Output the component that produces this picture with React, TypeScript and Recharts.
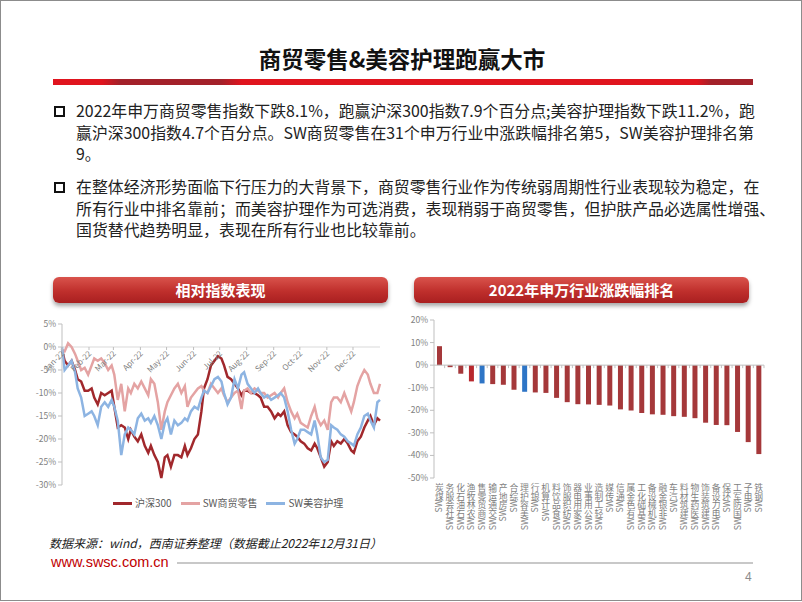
import React from 'react';
import {
	LineChart,
	Line,
	BarChart,
	Bar,
	Cell,
	XAxis,
	YAxis,
	ReferenceLine,
	ReferenceDot,
} from 'recharts';

/* ─── Data: relative index performance (% vs 2021-12-31) ─── */

const DAYS = [
	0, 3, 7, 11, 15, 18, 22, 26, 30, 34, 37, 41, 45, 49, 53, 57, 60, 64, 68, 72,
	76, 79, 83, 87, 91, 95, 99, 102, 106, 110, 114, 118, 121, 125, 129, 133, 137, 141, 144, 148,
	152, 156, 160, 163, 167, 171, 175, 179, 183, 186, 190, 194, 198, 202, 206, 209, 213, 217, 221, 225,
	228, 232, 236, 240, 244, 248, 251, 255, 259, 263, 267, 270, 274, 278, 282, 286, 290, 293, 297, 301,
	305, 309, 312, 316, 320, 324, 328, 332, 335, 339, 343, 347, 351, 354, 358, 362, 365,
];

const HS300 = [
	-0.5, -3, -4, -3, -5, -7, -7.5, -9.5, -9.5, -9, -11, -12.5, -10, -10.5, -10, -9.5, -13, -17.5, -17, -17.5,
	-20, -18, -19.5, -20.5, -19, -21.5, -23, -21.5, -23.5, -25, -28.5, -24, -23.5, -26, -23.5, -23.5, -24, -21.5, -23.5, -22,
	-20, -19, -14, -9, -7, -4, -3, -2, -2.5, -4, -6.5, -7, -8, -9, -10.5, -9.5, -9.5, -10, -10, -10.5,
	-11, -13, -13, -14, -15.5, -14.5, -15, -14, -17, -18.5, -19, -19.5, -20.5, -21, -22, -22.5, -21, -22, -24, -26,
	-25, -20.5, -21.5, -20.5, -21, -20, -21, -22.5, -23, -20.5, -19.5, -17.5, -16, -15, -17, -15.5, -16,
];

const RETAIL = [
	-1, -1, 0.8, 0, -1.5, -3, -5, -4.5, -6, -4, -2.5, -3, -2.5, -3.5, -5, -4, -6, -11.5, -8, -14,
	-9, -10, -8, -9, -7.5, -9, -10.5, -7, -8, -12, -18, -14, -12, -10.5, -9, -8, -10, -8.5, -13, -11,
	-10, -9, -8.5, -9.5, -10, -8, -9, -10, -9, -10.5, -12, -11, -10, -9.5, -13.5, -9.5, -9, -10, -9, -9.5,
	-10, -10, -11, -10.5, -10, -11, -10, -9, -12, -14, -15.5, -14.5, -16.5, -17, -17.5, -15, -13, -15.5, -17, -16,
	-18, -12, -11, -11, -12, -10, -12, -14, -12, -8.5, -6.5, -5, -6, -8, -10, -10, -8,
];

const BEAUTY = [
	0, -5, -4, -3, -5.5, -9, -11, -15, -14.5, -14, -15, -17, -13, -12, -13, -11.5, -13, -16, -23.5, -19,
	-17.5, -18, -19, -15.5, -14.5, -16, -15.5, -16.5, -15, -17, -20, -16.5, -15.5, -19, -16, -17, -16.5, -15.5, -16, -14,
	-13, -13.5, -11, -9.5, -10, -8.5, -7, -6.5, -7.5, -10, -12.5, -11, -7, -9, -6, -5.5, -8, -9, -10, -9,
	-10, -11, -10.5, -11.5, -11, -10.5, -10, -11, -14, -18, -21, -20, -18, -18, -18.5, -19, -16, -19, -24, -25,
	-24.5, -17, -17.5, -18, -19, -19.5, -20.5, -21, -21.5, -19, -17.5, -15, -14.5, -16, -17.5, -12, -11.5,
];

const MONTH_STARTS = [0, 31, 59, 90, 120, 151, 181, 212, 243, 273, 304, 334];
const MONTH_LABELS = ['Jan-22', 'Feb-22', 'Mar-22', 'Apr-22', 'May-22', 'Jun-22', 'Jul-22', 'Aug-22', 'Sep-22', 'Oct-22', 'Nov-22', 'Dec-22'];
const LINE_TICKS = [5, 0, -5, -10, -15, -20, -25, -30];

/* ─── Data: 2022 SW industry ranking ─── */

const INDUSTRIES = [
	'SW煤炭', 'SW社会服务', 'SW石油石化', 'SW农林牧渔', 'SW商贸零售', 'SW交通运输', 'SW房地产', 'SW综合',
	'SW美容护理', 'SW银行', 'SW计算机', 'SW食品饮料', 'SW纺织服饰', 'SW家用电器', 'SW公用事业', 'SW轻工制造',
	'SW传媒', 'SW通信', 'SW有色金属', 'SW基础化工', 'SW机械设备', 'SW非银金融', 'SW汽车', 'SW建筑材料',
	'SW医药生物', 'SW建筑装饰', 'SW电力设备', 'SW环保', 'SW国防军工', 'SW电子', 'SW钢铁',
];

const CHANGES = [
	8.4, -0.9, -3.8, -7.2, -8.1, -8.4, -8.7, -10.9, -11.8, -12.1, -12.3, -14.5, -16.4, -17.3, -17.4, -17.6,
	-17.9, -19.6, -20.1, -21.2, -21.8, -22.0, -22.6, -22.9, -23.5, -25.5, -26.5, -26.6, -29.6, -34.1, -39.4,
];

const HIGHLIGHT = ['SW商贸零售', 'SW美容护理'];
const BAR_TICKS = [20, 10, 0, -10, -20, -30, -40, -50];

/* ─── Style ─── */

const FONT = '"Noto Sans CJK SC", "Noto Sans", sans-serif';
const AXIS_GRAY = '#BFBFBF';
const TICK_TEXT = { fontSize: 8.5, fill: '#7F7F7F', fontFamily: FONT };

const RED_DARK = '#A1282C';
const PINK = '#E4A3A3';
const BLUE_LIGHT = '#8DB4E2';

const lineData = DAYS.map((d, i) => ({ day: d, hs300: HS300[i], retail: RETAIL[i], beauty: BEAUTY[i] }));
const barData = INDUSTRIES.map((name, i) => ({ name, value: CHANGES[i] }));

/* ─── Small pieces ─── */

function Banner({ left, title }: { left: number; title: string }) {
	return (
		<div
			style={{
				position: 'absolute',
				left,
				top: 276,
				width: 335,
				height: 26,
				borderRadius: 6,
				background: 'linear-gradient(#D9534C, #BF2F2C 55%, #A91F20)',
				boxShadow: '0 3px 4px rgba(0,0,0,0.35)',
				color: '#fff',
				fontWeight: 700,
				fontSize: 15,
				lineHeight: '26px',
				textAlign: 'center',
				fontFamily: FONT,
			}}
		>
			{title}
		</div>
	);
}

function Bullet({ top, lines }: { top: number; lines: string[] }) {
	return (
		<>
			<div
				style={{
					position: 'absolute',
					left: 53,
					top: top + 6,
					width: 7,
					height: 7,
					border: '2px solid #111',
				}}
			/>
			<div
				style={{
					position: 'absolute',
					left: 75,
					top,
					fontSize: 15.9,
					lineHeight: '21.5px',
					color: '#222',
					fontFamily: FONT,
					whiteSpace: 'nowrap',
				}}
			>
				{lines.map((l) => (
					<div key={l}>{l}</div>
				))}
			</div>
		</>
	);
}

function MonthMark(props: any) {
	const { cx, cy, label } = props;
	return (
		<g>
			<line x1={cx} y1={cy} x2={cx} y2={cy + 3} stroke={AXIS_GRAY} />
			<text
				transform={`translate(${cx + 3}, ${cy + 7}) rotate(-45)`}
				textAnchor="end"
				fontSize={8}
				fill="#7F7F7F"
				fontFamily={FONT}
			>
				{label}
			</text>
		</g>
	);
}

function ZeroAxis(props: any) {
	const { x1, x2, y1 } = props;
	const n = INDUSTRIES.length;
	const step = (x2 - x1) / n;
	return (
		<g>
			<line x1={x1} y1={y1} x2={x2} y2={y1} stroke={AXIS_GRAY} />
			{INDUSTRIES.map((_, i) => (
				<line key={i} x1={x1 + step * (i + 1)} y1={y1} x2={x1 + step * (i + 1)} y2={y1 + 3} stroke={AXIS_GRAY} />
			))}
		</g>
	);
}

// category label turned -90 (reads upwards, ends at the axis); Chinese glyphs turned back upright
function StackedTick(props: any) {
	const { x, y, payload } = props;
	const label: string = payload.value;
	const prefix = label.startsWith('SW') ? 'SW' : '';
	const rest = label.slice(prefix.length);
	const fs = 8.8;
	return (
		<text
			transform={`translate(${x + fs * 0.36}, ${y}) rotate(-90)`}
			textAnchor="end"
			fontSize={fs}
			fill="#7F7F7F"
			fontFamily={FONT}
		>
			{prefix}
			<tspan rotate={90} dy={-fs * 0.86}>
				{rest}
			</tspan>
		</text>
	);
}

/* ─── Main ─── */

export default function App() {
	return (
		<div
			style={{
				position: 'absolute',
				left: 0,
				top: 0,
				width: 800,
				height: 599,
				border: '1px solid #8C8C8C',
				background: '#fff',
				overflow: 'hidden',
				fontFamily: FONT,
			}}
		>
			{/* title */}
			<div
				style={{
					position: 'absolute',
					left: 0,
					top: 42,
					width: 802,
					textAlign: 'center',
					fontSize: 22.5,
					fontWeight: 700,
					lineHeight: '30px',
					color: '#111',
				}}
			>
				商贸零售&amp;美容护理跑赢大市
			</div>
			<div
				style={{
					position: 'absolute',
					left: 52,
					top: 78,
					width: 700,
					height: 6,
					background:
						'linear-gradient(90deg, #E0141E 0%, #E0141E 7%, #A3212A 9.5%, #A3212A 24%, #E0141E 27%, #E0141E 92%, #A3212A 94%, #A3212A 100%)',
				}}
			/>

			<Bullet
				top={99}
				lines={[
					'2022年申万商贸零售指数下跌8.1%，跑赢沪深300指数7.9个百分点;美容护理指数下跌11.2%，跑',
					'赢沪深300指数4.7个百分点。SW商贸零售在31个申万行业中涨跌幅排名第5，SW美容护理排名第',
					'9。',
				]}
			/>
			<Bullet
				top={175}
				lines={[
					'在整体经济形势面临下行压力的大背景下，商贸零售行业作为传统弱周期性行业表现较为稳定，在',
					'所有行业中排名靠前；而美容护理作为可选消费，表现稍弱于商贸零售，但护肤产品必选属性增强、',
					'国货替代趋势明显，表现在所有行业也比较靠前。',
				]}
			/>

			<Banner left={52} title="相对指数表现" />
			<Banner left={413} title="2022年申万行业涨跌幅排名" />

			{/* left: line chart */}
			<div style={{ position: 'absolute', left: 20, top: 312 }}>
				<LineChart width={370} height={200} data={lineData} margin={{ top: 11, right: 11, left: 0, bottom: 28 }}>
					<XAxis type="number" dataKey="day" domain={[0, 365]} hide />
					<YAxis
						domain={[-30, 5]}
						ticks={LINE_TICKS}
						interval={0}
						width={41}
						tickFormatter={(v) => `${v}%`}
						tick={TICK_TEXT}
						axisLine={{ stroke: AXIS_GRAY }}
						tickLine={{ stroke: AXIS_GRAY }}
						tickSize={4}
					/>
					<ReferenceLine y={0} stroke="#D9D9D9" />
					{MONTH_STARTS.map((d, i) => (
						<ReferenceDot
							key={d}
							x={d}
							y={0}
							r={1}
							shape={(p: any) => <MonthMark {...p} label={MONTH_LABELS[i]} />}
						/>
					))}
					<Line dataKey="hs300" stroke={RED_DARK} strokeWidth={2.5} dot={false} isAnimationActive={false} />
					<Line dataKey="retail" stroke={PINK} strokeWidth={2.5} dot={false} isAnimationActive={false} />
					<Line dataKey="beauty" stroke={BLUE_LIGHT} strokeWidth={2.5} dot={false} isAnimationActive={false} />
				</LineChart>
			</div>

			{/* left legend */}
			<div
				style={{
					position: 'absolute',
					left: 112,
					top: 495,
					display: 'flex',
					alignItems: 'center',
					fontSize: 10,
					color: '#595959',
					lineHeight: '14px',
				}}
			>
				{[
					{ c: RED_DARK, t: '沪深300' },
					{ c: PINK, t: 'SW商贸零售' },
					{ c: BLUE_LIGHT, t: 'SW美容护理' },
				].map((it) => (
					<div key={it.t} style={{ display: 'flex', alignItems: 'center', marginRight: 9 }}>
						<div style={{ width: 19, height: 3, background: it.c, marginRight: 3 }} />
						<span>{it.t}</span>
					</div>
				))}
			</div>

			{/* right: bar chart */}
			<div style={{ position: 'absolute', left: 385, top: 310 }}>
				<BarChart
					width={385}
					height={223}
					data={barData}
					margin={{ top: 9, right: 7, left: 0, bottom: 0 }}
					barCategoryGap="28%"
				>
					<XAxis
						dataKey="name"
						interval={0}
						height={56}
						axisLine={false}
						tickLine={false}
						tickSize={0}
						tickMargin={4}
						tick={<StackedTick />}
					/>
					<YAxis
						domain={[-50, 20]}
						ticks={BAR_TICKS}
						interval={0}
						width={48}
						tickFormatter={(v) => `${v}%`}
						tick={TICK_TEXT}
						axisLine={{ stroke: AXIS_GRAY }}
						tickLine={{ stroke: AXIS_GRAY }}
						tickSize={4}
					/>
					<Bar dataKey="value" isAnimationActive={false}>
						{barData.map((d) => (
							<Cell
								key={d.name}
								fill={HIGHLIGHT.includes(d.name) ? '#2E75C6' : d.name === 'SW农林牧渔' ? '#B8282D' : '#A5383A'}
							/>
						))}
					</Bar>
					<ReferenceLine y={0} shape={<ZeroAxis />} />
				</BarChart>
			</div>

			{/* footer */}
			<div
				style={{
					position: 'absolute',
					left: 48,
					top: 533,
					whiteSpace: 'nowrap',
					fontSize: 12,
					fontStyle: 'italic',
					color: '#222',
					lineHeight: '18px',
				}}
			>
				数据来源：wind，西南证券整理（数据截止2022年12月31日）
			</div>
			<div
				style={{
					position: 'absolute',
					left: 50,
					top: 552,
					fontSize: 14.5,
					fontFamily: 'Liberation Sans, Arial, sans-serif',
					color: '#C00000',
					lineHeight: '18px',
				}}
			>
				www.swsc.com.cn
			</div>
			<div style={{ position: 'absolute', left: 176, top: 561, width: 576, height: 1.5, background: '#C8C8C8' }} />
			<div
				style={{
					position: 'absolute',
					left: 744,
					top: 569,
					fontSize: 12,
					color: '#8C8C8C',
					fontFamily: 'Liberation Sans, Arial, sans-serif',
				}}
			>
				4
			</div>
		</div>
	);
}
